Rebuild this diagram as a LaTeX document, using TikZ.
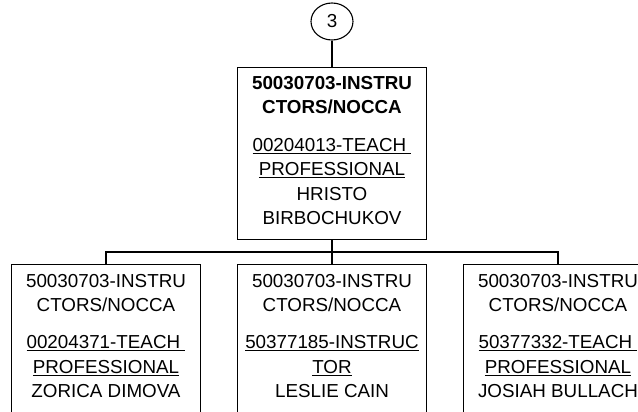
\documentclass[tikz,border=0pt]{standalone}
\usepackage{fontspec}
\setmainfont{Liberation Sans}
\usetikzlibrary{shapes.geometric}
\begin{document}
\begin{tikzpicture}[x=1pt,y=-1pt,
  box/.style={draw, line width=1.1pt, minimum width=189pt, minimum height=172pt, inner sep=0pt, anchor=north},
  txt/.style={align=center, inner sep=0pt, anchor=north, font=\fontsize{18.8}{24.5}\selectfont},
  conn/.style={line width=1.1pt},
  bubble/.style={draw, ellipse, line width=1.1pt, minimum width=42pt, minimum height=37pt, inner sep=0pt, font=\fontsize{18.8}{24.5}\selectfont}]
\useasboundingbox (0,0) rectangle (638,412);
\clip (0,0) rectangle (638,412);
% connector bubble
\node[bubble] (c) at (332,21.5) {3};
% top box
\node[box] (top) at (332,67) {};
\node[txt] (toptxt) at ([yshift=-9pt]top.north) {\textbf{50030703-INSTRU}\\\textbf{CTORS/NOCCA}\\[13pt]\underline{00204013-TEACH\ }\\\underline{PROFESSIONAL}\\HRISTO\\BIRBOCHUKOV};
% bottom boxes
\node[box] (b1) at (106,264) {};
\node[box] (b2) at (332,264) {};
\node[box] (b3) at (558,264) {};
\node[txt] (b1txt) at ([yshift=-10pt]b1.north) {50030703-INSTRU\\CTORS/NOCCA\\[12.5pt]\underline{00204371-TEACH\ }\\\underline{PROFESSIONAL}\\ZORICA DIMOVA};
\node[txt] (b2txt) at ([yshift=-10pt]b2.north) {50030703-INSTRU\\CTORS/NOCCA\\[12.5pt]\underline{50377185-INSTRUC}\\\underline{TOR}\\LESLIE CAIN};
\node[txt] (b3txt) at ([yshift=-10pt]b3.north) {50030703-INSTRU\\CTORS/NOCCA\\[12.5pt]\underline{50377332-TEACH\ }\\\underline{PROFESSIONAL}\\JOSIAH BULLACH};
% connectors
\coordinate (bus) at (332,252);
\draw[conn] (c.south) -- (top.north);
\draw[conn] (top.south) -- (bus);
\draw[conn] (bus) -| (b1.north);
\draw[conn] (bus) -- (b2.north);
\draw[conn] (bus) -| (b3.north);
\end{tikzpicture}
\end{document}
